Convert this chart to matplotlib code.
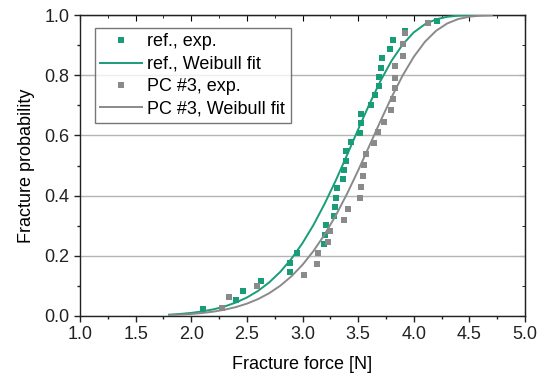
import matplotlib
matplotlib.use('Agg')
import matplotlib.pyplot as plt
from matplotlib.ticker import MultipleLocator

plt.rcParams['font.family'] = ['Liberation Sans', 'DejaVu Sans']

green = '#199d78'
grey = '#8a8a8a'

# experimental points (fracture force [N], fracture probability)
ref_force = [2.11, 2.40, 2.465, 2.63, 2.888, 2.888, 2.95, 3.193, 3.20, 3.21, 3.283,
             3.29, 3.298, 3.307, 3.36, 3.376, 3.388, 3.388, 3.44, 3.52, 3.53, 3.53,
             3.62, 3.65, 3.69, 3.69, 3.705, 3.717, 3.787, 3.81, 3.92, 4.206]
ref_prob = [0.022, 0.053, 0.084, 0.115, 0.145, 0.177, 0.208, 0.239, 0.270, 0.301, 0.331,
            0.362, 0.393, 0.424, 0.455, 0.486, 0.516, 0.547, 0.578, 0.609, 0.640, 0.671,
            0.702, 0.733, 0.764, 0.794, 0.825, 0.856, 0.887, 0.918, 0.946, 0.980]

pc3_force = [2.28, 2.34, 2.59, 3.01, 3.13, 3.14, 3.23, 3.25, 3.376, 3.41, 3.52, 3.53,
             3.54, 3.55, 3.57, 3.64, 3.68, 3.73, 3.795, 3.816, 3.83, 3.83, 3.83,
             3.90, 3.90, 3.92, 4.13]
pc3_prob = [0.025, 0.062, 0.099, 0.136, 0.173, 0.209, 0.246, 0.282, 0.319, 0.355, 0.392,
            0.428, 0.464, 0.501, 0.537, 0.574, 0.610, 0.646, 0.683, 0.720, 0.756, 0.792,
            0.829, 0.865, 0.902, 0.940, 0.975]

# Weibull fit curves
fit_force = [1.8, 1.9, 2.0, 2.1, 2.2, 2.3, 2.4, 2.5, 2.6, 2.7, 2.8, 2.9, 3.0, 3.1, 3.2,
             3.3, 3.4, 3.5, 3.6, 3.7, 3.8, 3.9, 4.0, 4.1, 4.2, 4.3, 4.4, 4.5, 4.6, 4.7]
ref_fit = [0.0044, 0.0068, 0.0103, 0.0153, 0.0222, 0.0317, 0.0445, 0.0614, 0.0833,
           0.1114, 0.1466, 0.1899, 0.2421, 0.3033, 0.3736, 0.4511, 0.5343, 0.6196,
           0.7029, 0.7802, 0.8476, 0.9019, 0.9422, 0.9692, 0.9855, 0.9940, 0.9979,
           0.9994, 0.9999, 1.0]
pc3_fit = [0.0028, 0.0044, 0.0067, 0.0100, 0.0146, 0.0209, 0.0295, 0.0410, 0.0561,
           0.0756, 0.1005, 0.1317, 0.1701, 0.2165, 0.2715, 0.3346, 0.4058, 0.4834,
           0.5646, 0.6469, 0.7263, 0.7989, 0.8610, 0.9108, 0.9474, 0.9718, 0.9866,
           0.9944, 0.9980, 0.9994]

fig = plt.figure(figsize=(5.45, 3.76), dpi=100)
ax = fig.add_axes([80 / 545, 1 - 316 / 376, 445 / 545, 301 / 376])

ax.plot(ref_force, ref_prob, 's', color=green, ms=4.3, mew=0, label='ref., exp.', zorder=3)
ax.plot(fit_force, ref_fit, '-', color=green, lw=1.4, label='ref., Weibull fit', zorder=3)
ax.plot(pc3_force, pc3_prob, 's', color=grey, ms=4.3, mew=0, label='PC #3, exp.', zorder=4)
ax.plot(fit_force, pc3_fit, '-', color=grey, lw=1.4, label='PC #3, Weibull fit', zorder=4)

ax.set_xlim(1.0, 5.0)
ax.set_ylim(0.0, 1.0)
ax.xaxis.set_major_locator(MultipleLocator(0.5))
ax.xaxis.set_minor_locator(MultipleLocator(0.25))
ax.yaxis.set_major_locator(MultipleLocator(0.2))
ax.yaxis.set_minor_locator(MultipleLocator(0.1))
ax.xaxis.set_major_formatter('{x:.1f}')
ax.yaxis.set_major_formatter('{x:.1f}')
ax.tick_params(which='major', direction='out', length=4, width=1, labelsize=13, colors='#222222')
ax.tick_params(which='minor', direction='out', length=2.5, width=1, colors='#222222')
ax.grid(axis='y', which='major', color='#b4b4b4', lw=1)
ax.set_axisbelow(True)
for s in ax.spines.values():
    s.set_linewidth(1)
    s.set_color('#222222')

top = ax.secondary_xaxis('top')
top.xaxis.set_major_locator(MultipleLocator(0.5))
top.xaxis.set_minor_locator(MultipleLocator(0.25))
top.tick_params(which='major', direction='in', length=4, labeltop=False)
top.tick_params(which='minor', direction='in', length=2.5)
right = ax.secondary_yaxis('right')
right.yaxis.set_major_locator(MultipleLocator(0.2))
right.yaxis.set_minor_locator(MultipleLocator(0.1))
right.tick_params(which='major', direction='in', length=4, labelright=False)
right.tick_params(which='minor', direction='in', length=2.5)

ax.set_xlabel('Fracture force [N]', fontsize=13, labelpad=9)
ax.set_ylabel('Fracture probability', fontsize=13, labelpad=7)

leg = ax.legend(loc='upper left', bbox_to_anchor=(15 / 445, 1 - 13 / 301), borderaxespad=0,
                fontsize=13, frameon=True, fancybox=False, edgecolor='#555555',
                handlelength=2.3, handletextpad=0.3, labelspacing=0.3, borderpad=0.3,
                numpoints=1)
leg.get_frame().set_linewidth(1)

fig.savefig('out.png', dpi=100)
